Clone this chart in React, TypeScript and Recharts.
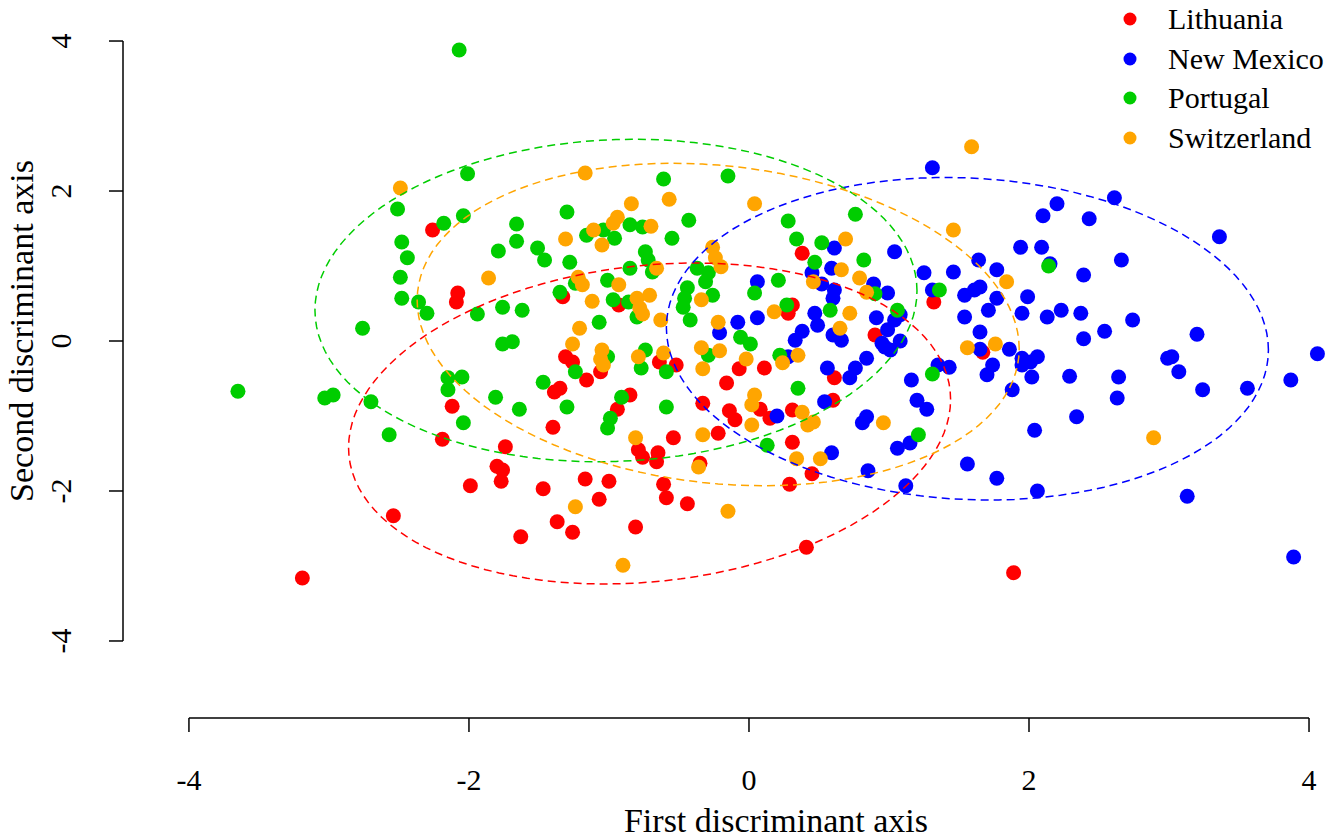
import React from "react";
import { ScatterChart, Scatter, XAxis, YAxis, ReferenceLine } from "recharts";

const FONT = "'Liberation Serif', 'Times New Roman', serif";

const groups = ["Lithuania", "New Mexico", "Portugal", "Switzerland"];
const colors = ["#FF0000", "#0000FF", "#00CD00", "#FFA500"];
const axisTicks = [-4, -2, 0, 2, 4];

// discriminant scores [first, second]
const lithuania: [number, number][] = [
  [-2.26, 1.48], [-2.08, 0.64], [-2.09, 0.52], [-2.12, -0.87], [-1.33, 0.59], [-0.93, 0.48],
  [-1.31, -0.21], [-1.26, -0.28], [-0.64, -0.28], [-0.52, -0.32], [-0.07, -0.37], [0.11, -0.36],
  [-1.16, -0.52], [-1.06, -0.41], [-1.39, -0.68], [-1.35, -0.63], [-0.16, -0.56], [-0.85, -0.72],
  [-0.94, -0.91], [-0.33, -0.83], [-0.14, -0.93], [0.08, -0.91], [-0.1, -1.05], [0.15, -1.03],
  [0.38, 1.17], [1.32, 0.52], [0.28, 0.37], [0.31, 0.48], [0.9, 0.08], [1.67, -0.15],
  [0.61, -0.49], [0.6, -0.79], [0.31, -0.92], [-2.19, -1.31], [-1.74, -1.41], [-1.8, -1.67],
  [-1.76, -1.72], [-1.77, -1.87], [-1.99, -1.93], [-2.54, -2.33], [-3.19, -3.16], [-1.4, -1.15],
  [-0.79, -1.45], [-0.76, -1.55], [-0.65, -1.49], [-0.66, -1.61], [-0.54, -1.29], [-0.22, -1.23],
  [-0.35, -1.63], [-1.17, -1.84], [-1.0, -1.87], [-1.47, -1.97], [-0.61, -1.91], [-0.59, -2.09],
  [-1.07, -2.11], [-0.44, -2.17], [-1.37, -2.41], [-1.26, -2.55], [-0.81, -2.48], [-1.63, -2.61],
  [0.31, -1.35], [0.45, -1.77], [0.29, -1.91], [0.41, -2.75], [1.89, -3.09],
];

const newMexico: [number, number][] = [
  [1.31, 2.31], [2.1, 1.67], [2.2, 1.83], [2.61, 1.91], [2.43, 1.63], [0.06, 0.79], [-0.08, 0.25],
  [0.06, 0.31], [-0.21, 0.11], [0.61, 1.24], [1.04, 1.19], [1.94, 1.25], [2.09, 1.25], [1.64, 1.08],
  [1.77, 0.95], [2.15, 1.03], [1.25, 0.91], [1.46, 0.92], [0.59, 0.97], [0.45, 0.91], [0.52, 0.76],
  [0.89, 0.76], [0.99, 0.64], [0.61, 0.68], [0.6, 0.57], [1.31, 0.68], [1.54, 0.61], [1.61, 0.68],
  [1.65, 0.72], [1.77, 0.57], [1.99, 0.59], [1.71, 0.41], [1.95, 0.37], [2.13, 0.32], [1.54, 0.32],
  [0.47, 0.37], [0.49, 0.21], [1.08, 0.35], [1.04, 0.28], [0.91, 0.31], [1.65, 0.12], [0.6, 0.08],
  [0.66, 0.01], [0.38, 0.13], [0.33, 0.01], [0.99, 0.15], [0.95, -0.03], [1.01, -0.12], [0.97, -0.08],
  [1.08, 0.0], [1.65, -0.11], [1.86, -0.11], [1.95, -0.23], [2.01, -0.28], [2.06, -0.21], [0.28, -0.21],
  [0.84, -0.23], [0.56, -0.36], [0.76, -0.36], [0.72, -0.49], [1.35, -0.32], [1.43, -0.35], [1.74, -0.32],
  [1.7, -0.45], [1.95, -0.32], [2.02, -0.48], [1.16, -0.52], [1.88, -0.65], [0.54, -0.81], [1.2, -0.79],
  [1.27, -0.91], [3.36, 1.39], [2.66, 1.08], [2.39, 0.88], [2.23, 0.41], [2.37, 0.37], [2.74, 0.28],
  [2.54, 0.13], [2.39, 0.03], [3.2, 0.09], [2.99, -0.23], [3.02, -0.21], [4.06, -0.17], [3.07, -0.41],
  [2.29, -0.47], [2.64, -0.48], [3.24, -0.65], [3.56, -0.63], [3.87, -0.52], [2.63, -0.76], [2.34, -1.01],
  [0.2, -1.0], [0.81, -1.09], [0.84, -1.01], [1.06, -1.43], [1.15, -1.36], [0.59, -1.49], [1.56, -1.64],
  [1.77, -1.83], [2.04, -1.19], [0.85, -1.73], [1.12, -1.93], [2.06, -2.0], [3.13, -2.07], [3.89, -2.88],
];

const portugal: [number, number][] = [
  [-2.07, 3.88], [-2.01, 2.23], [-2.51, 1.76], [-2.04, 1.67], [-2.18, 1.57], [-0.61, 2.16], [-0.15, 2.2],
  [-1.3, 1.72], [-1.66, 1.56], [-0.43, 1.61], [-0.85, 1.55], [-0.76, 1.52], [-1.04, 1.48], [0.28, 1.6],
  [0.76, 1.69], [-2.48, 1.32], [-2.44, 1.11], [-2.49, 0.85], [-2.48, 0.57], [-2.36, 0.52], [-2.3, 0.37],
  [-1.79, 1.2], [-1.94, 0.36], [-1.76, 0.45], [-2.76, 0.17], [-1.76, -0.04], [-1.69, -0.01], [-3.65, -0.67],
  [-3.03, -0.76], [-2.97, -0.72], [-2.7, -0.81], [-2.15, -0.49], [-2.15, -0.65], [-2.05, -0.48], [-1.81, -0.75],
  [-1.66, 1.33], [-1.16, 1.41], [-0.96, 1.37], [-0.55, 1.37], [-1.51, 1.24], [-1.46, 1.08], [-1.28, 1.05],
  [-0.74, 1.19], [-0.72, 1.08], [-0.69, 0.92], [-0.85, 0.97], [-0.37, 0.97], [-0.29, 0.91], [-0.31, 0.79],
  [-1.24, 0.77], [-1.01, 0.81], [0.04, 0.64], [0.21, 0.81], [-1.35, 0.65], [-0.97, 0.55], [-0.86, 0.52],
  [-0.8, 0.32], [-0.44, 0.71], [-0.46, 0.57], [-0.47, 0.45], [-0.26, 0.61], [-1.62, 0.41], [-1.07, 0.25],
  [-0.42, 0.28], [-0.06, 0.05], [0.01, -0.04], [-1.01, -0.21], [-1.24, -0.41], [-0.74, -0.12], [-0.77, -0.36],
  [-0.59, -0.41], [-0.29, -0.19], [0.22, -0.19], [-1.47, -0.55], [-0.91, -0.75], [-1.3, -0.88], [-0.59, -0.88],
  [-1.64, -0.91], [0.34, 1.36], [0.52, 1.31], [0.47, 1.05], [0.82, 1.08], [2.14, 1.0], [0.27, 0.48],
  [0.58, 0.41], [1.06, 0.41], [0.9, 0.63], [1.36, 0.68], [1.31, -0.44], [0.35, -0.63], [-2.04, -1.09],
  [-2.57, -1.25], [-0.99, -1.03], [-1.01, -1.16], [0.13, -1.39], [1.21, -1.25],
];

const switzerland: [number, number][] = [
  [-2.49, 2.04], [-1.17, 2.24], [-0.57, 1.89], [0.04, 1.83], [-0.84, 1.83], [-0.94, 1.65], [-0.97, 1.57],
  [-0.7, 1.53], [-1.11, 1.48], [1.59, 2.59], [1.46, 1.48], [-1.86, 0.84], [-1.31, 1.36], [-1.05, 1.28],
  [-0.26, 1.25], [-0.24, 1.11], [-0.2, 0.99], [-0.66, 0.97], [-1.22, 0.85], [-1.19, 0.75], [-0.93, 0.75],
  [-1.12, 0.53], [-0.8, 0.57], [-0.71, 0.61], [-0.78, 0.44], [-0.76, 0.36], [-0.34, 0.55], [-0.63, 0.28],
  [-0.22, 0.25], [-1.21, 0.17], [0.18, 0.39], [-1.26, -0.04], [-1.05, -0.12], [-1.06, -0.24], [-1.04, -0.32],
  [-0.79, -0.21], [-0.61, -0.16], [-0.34, -0.09], [-0.21, -0.13], [-0.33, -0.37], [-0.02, -0.24], [0.04, -0.72],
  [0.02, -0.85], [0.69, 1.36], [0.66, 0.95], [0.46, 0.79], [0.79, 0.84], [1.84, 0.79], [0.84, 0.65],
  [0.72, 0.37], [0.65, 0.17], [1.56, -0.09], [1.76, -0.04], [0.35, -0.19], [0.24, -0.29], [-0.81, -1.29],
  [-0.33, -1.25], [0.02, -1.12], [-0.36, -1.68], [-1.24, -2.21], [-0.15, -2.27], [-0.9, -2.99], [0.38, -0.95],
  [0.42, -1.12], [0.46, -1.08], [0.96, -1.09], [0.34, -1.57], [0.51, -1.57], [2.89, -1.29],
];

// 90% ellipses per group: centre, half-widths and tilt (correlation)
const ellipseCx = [-0.71, 1.56, -0.95, -0.22];
const ellipseCy = [-1.1, 0.03, 0.54, 0.22];
const ellipseRx = [2.15, 2.15, 2.15, 2.15];
const ellipseRy = [2.14, 2.15, 2.15, 2.15];
const ellipseRho = [0.15, -0.07, 0.06, -0.15];

const X_MIN = -4.471;
const X_MAX = 4.207;
const Y_MIN = -5.027;
const Y_MAX = 4.547;

const series = [lithuania, newMexico, portugal, switzerland].map((pts) =>
  pts.map(([x, y]) => ({ x, y }))
);

const ellipses = ellipseCx.map((cx, g) => {
  const phi = Math.acos(ellipseRho[g]);
  const out: { x: number; y: number }[] = [];
  for (let k = 0; k <= 120; k++) {
    const t = (2 * Math.PI * k) / 120;
    out.push({
      x: cx + ellipseRx[g] * Math.cos(t),
      y: ellipseCy[g] + ellipseRy[g] * Math.cos(t - phi),
    });
  }
  return out;
});

const XTick = (props: any) => {
  const { x, y, payload } = props;
  return (
    <text x={x} y={y} dy={58} textAnchor="middle" fontFamily={FONT} fontSize={30} fill="#000">
      {payload.value}
    </text>
  );
};

const YTick = (props: any) => {
  const { x, y, payload } = props;
  const tx = x - 38;
  return (
    <text
      x={tx}
      y={y}
      textAnchor="middle"
      transform={`rotate(-90 ${tx} ${y})`}
      fontFamily={FONT}
      fontSize={30}
      fill="#000"
    >
      {payload.value}
    </text>
  );
};

const App = () => {
  return (
    <div
      style={{
        position: "absolute",
        left: 0,
        top: 0,
        width: 1338,
        height: 838,
        background: "#fff",
        fontFamily: FONT,
        overflow: "hidden",
      }}
    >
      <ScatterChart width={1338} height={838} margin={{ top: 0, right: 0, bottom: 0, left: 0 }}>
        <XAxis
          type="number"
          dataKey="x"
          domain={[X_MIN, X_MAX]}
          ticks={axisTicks}
          allowDataOverflow
          interval={0}
          axisLine={false}
          tickLine={{ stroke: "#000", strokeWidth: 1.5 }}
          tickSize={14}
          tickMargin={0}
          height={120}
          tick={<XTick />}
        />
        <YAxis
          type="number"
          dataKey="y"
          domain={[Y_MIN, Y_MAX]}
          ticks={axisTicks}
          allowDataOverflow
          interval={0}
          axisLine={false}
          tickLine={{ stroke: "#000", strokeWidth: 1.5 }}
          tickSize={14}
          tickMargin={0}
          width={123}
          tick={<YTick />}
        />
        <ReferenceLine
          segment={[{ x: X_MIN, y: -4 }, { x: X_MIN, y: 4 }]}
          stroke="#000"
          strokeWidth={1.5}
          ifOverflow="visible"
        />
        <ReferenceLine
          segment={[{ x: -4, y: Y_MIN }, { x: 4, y: Y_MIN }]}
          stroke="#000"
          strokeWidth={1.5}
          ifOverflow="visible"
        />
        {series.map((data, g) => (
          <Scatter
            key={groups[g]}
            name={groups[g]}
            data={data}
            isAnimationActive={false}
            shape={(p: any) => <circle cx={p.cx} cy={p.cy} r={7.5} fill={colors[g]} />}
          />
        ))}
        {ellipses.map((data, g) => (
          <Scatter
            key={`ellipse-${groups[g]}`}
            data={data}
            isAnimationActive={false}
            line={{ stroke: colors[g], strokeWidth: 1.5, strokeDasharray: "8 5" }}
            lineType="joint"
            shape={() => <g />}
            legendType="none"
          />
        ))}
      </ScatterChart>

      {/* axis titles */}
      <div
        style={{
          position: "absolute",
          left: 776,
          top: 804,
          transform: "translateX(-50%)",
          fontSize: 34,
          lineHeight: 1,
          whiteSpace: "nowrap",
        }}
      >
        First discriminant axis
      </div>
      <div
        style={{
          position: "absolute",
          left: 22,
          top: 331,
          transform: "translate(-50%, -50%) rotate(-90deg)",
          fontSize: 34,
          lineHeight: 1,
          whiteSpace: "nowrap",
        }}
      >
        Second discriminant axis
      </div>

      {/* legend */}
      <div style={{ position: "absolute", left: 1120, top: -0.5 }}>
        {groups.map((name, g) => (
          <div key={name} style={{ display: "flex", alignItems: "center", height: 39.5 }}>
            <svg width={20} height={20} style={{ display: "block" }}>
              <circle cx={10} cy={10} r={6.5} fill={colors[g]} />
            </svg>
            <span style={{ marginLeft: 28, fontSize: 30, lineHeight: 1 }}>{name}</span>
          </div>
        ))}
      </div>
    </div>
  );
};

export default App;
